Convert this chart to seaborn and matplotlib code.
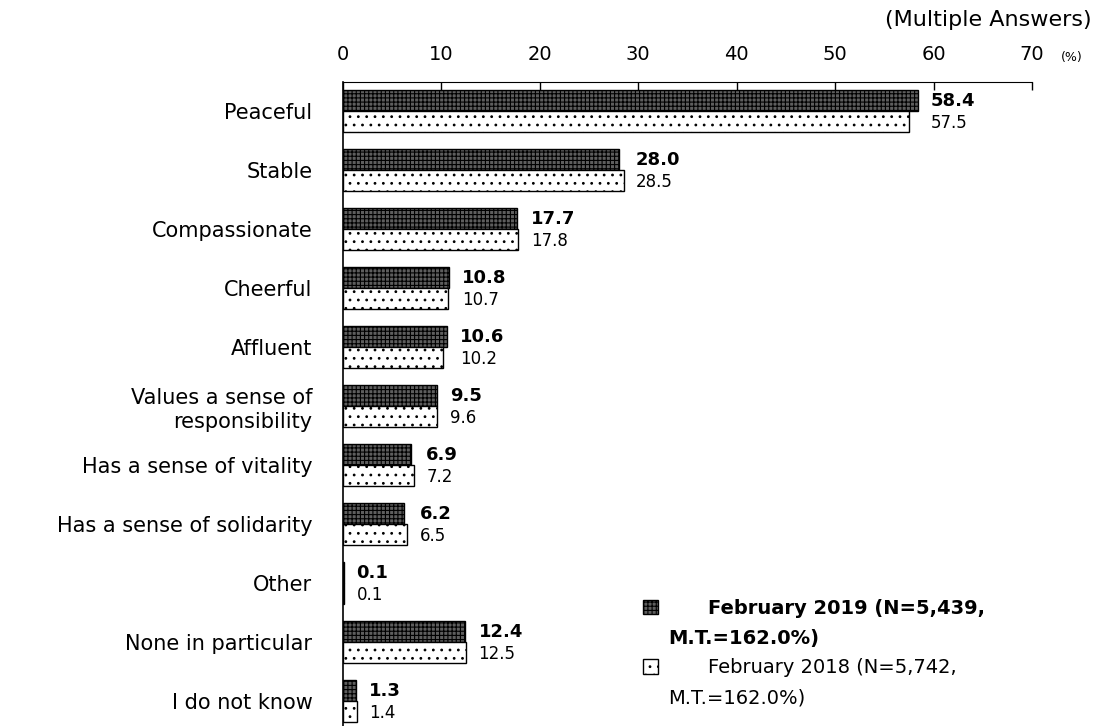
import matplotlib
matplotlib.use("Agg")
import matplotlib.pyplot as plt
import pandas as pd
import seaborn as sns
from matplotlib.patches import Patch

categories = ["Peaceful", "Stable", "Compassionate", "Cheerful", "Affluent",
              "Values a sense of\nresponsibility", "Has a sense of vitality",
              "Has a sense of solidarity", "Other", "None in particular",
              "I do not know"]
vals_2019 = [58.4, 28.0, 17.7, 10.8, 10.6, 9.5, 6.9, 6.2, 0.1, 12.4, 1.3]
vals_2018 = [57.5, 28.5, 17.8, 10.7, 10.2, 9.6, 7.2, 6.5, 0.1, 12.5, 1.4]
series = ["February 2019", "February 2018"]
legend_lines = [["February 2019 (N=5,439,", "M.T.=162.0%)"],
                ["February 2018 (N=5,742,", "M.T.=162.0%)"]]

df = pd.DataFrame({
    "category": categories * 2,
    "value": vals_2019 + vals_2018,
    "series": [series[0]] * len(categories) + [series[1]] * len(categories),
})

sns.set_style("white")
plt.rcParams["font.family"] = ["DejaVu Sans"]
plt.rcParams["text.color"] = "black"
plt.rcParams["xtick.color"] = "black"
plt.rcParams["ytick.color"] = "black"
plt.rcParams["hatch.linewidth"] = 0.8

fig = plt.figure(figsize=(10.98, 7.26), dpi=100)
ax = fig.add_axes([343 / 1098, 0, (1032 - 343) / 1098, 1 - 82 / 726])

sns.barplot(data=df, y="category", x="value", hue="series", orient="h",
            order=categories, hue_order=series, width=0.72,
            palette=["#3a3a3a", "white"], edgecolor="black", linewidth=1.0,
            legend=False, ax=ax)

n = len(categories)
for i, p in enumerate(ax.patches[:2 * n]):
    if i < n:
        p.set_hatch("++++")
        p.set_facecolor("#5e5e5e")
    else:
        p.set_hatch("..")
        p.set_facecolor("white")

# value labels
for i, (a, b) in enumerate(zip(vals_2019, vals_2018)):
    x = max(a, b)
    ax.annotate(f"{a:.1f}", (x, i), xytext=(9, 7.5), textcoords="offset points",
                ha="left", va="center", fontsize=13, fontweight="bold")
    ax.annotate(f"{b:.1f}", (x, i), xytext=(9, -8.5), textcoords="offset points",
                ha="left", va="center", fontsize=12)

ax.set_xlim(0, 70)
ax.set_ylim(10.42, -0.49)
ax.set_xticks(range(0, 71, 10))
ax.xaxis.tick_top()
ax.tick_params(axis="x", direction="in", length=6, width=1, pad=13,
               labelsize=14, top=True, bottom=False)
ax.tick_params(axis="y", length=0, pad=22, labelsize=15)
ax.set_xlabel("")
ax.set_ylabel("")
for lab in ax.get_yticklabels():
    lab.set_horizontalalignment("right")
    lab.set_multialignment("right")
    lab.set_linespacing(1.25)

ax.spines["right"].set_visible(False)
ax.spines["bottom"].set_visible(False)
ax.spines["top"].set_color("black")
ax.spines["left"].set_color("black")
ax.spines["left"].set_linewidth(1.2)

fig.text(1061 / 1098, 1 - 58 / 726, "(%)", fontsize=9, ha="left", va="center")
fig.text(1092 / 1098, 1 - 20 / 726, "(Multiple Answers)", fontsize=16,
         ha="right", va="center")

blank = Patch(facecolor="none", edgecolor="none")
handles = [Patch(facecolor="#5e5e5e", edgecolor="black", hatch="++++"), blank,
           Patch(facecolor="white", edgecolor="black", hatch=".."), blank]
labels = legend_lines[0] + legend_lines[1]
leg = ax.legend(handles, labels, loc="upper left",
                bbox_to_anchor=(300 / 689, 1 - (599 - 82) / 644),
                frameon=False, fontsize=14,
                handlelength=0.75, handleheight=0.75, handletextpad=2.6,
                labelspacing=0.55, borderaxespad=0, borderpad=0)
for t in leg.get_texts()[:2]:
    t.set_fontweight("bold")
leg.get_texts()[1].set_x(-40)
leg.get_texts()[3].set_x(-40)

fig.savefig("out.png", dpi=100)
